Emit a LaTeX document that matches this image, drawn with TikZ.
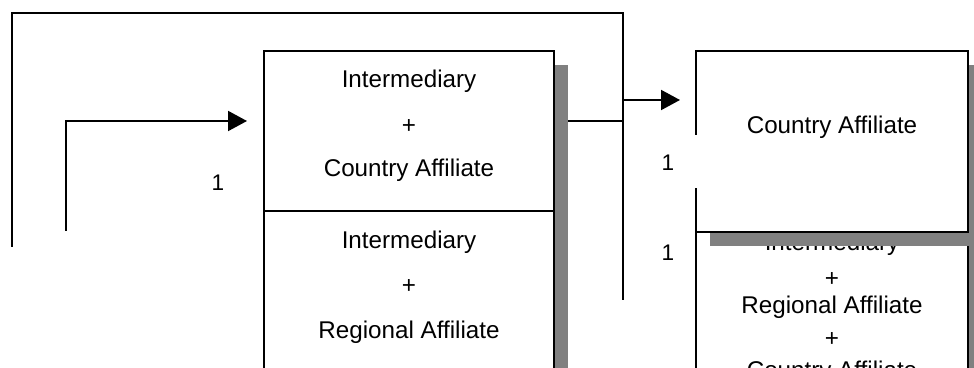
\documentclass[tikz,border=0pt]{standalone}
\usepackage{fontspec}
\setmainfont{Liberation Sans}
\usetikzlibrary{shadows,arrows.meta}
\definecolor{shade}{HTML}{808080}
\tikzset{
  box/.style={draw=black, line width=1pt, fill=white, inner sep=0pt,
    drop shadow={shadow xshift=7pt, shadow yshift=-7pt, fill=shade, opacity=1}},
  txt/.style={inner sep=0pt, anchor=base, font=\fontsize{12.1}{14}\selectfont},
  num/.style={inner sep=0pt, anchor=base, font=\fontsize{11.3}{13}\selectfont},
  wire/.style={line width=1pt},
  arr/.style={wire, -{Triangle[length=9.5pt,width=10pt]}},
}
\begin{document}
\begin{tikzpicture}[x=0.5pt,y=-0.5pt]
\useasboundingbox (0,0) rectangle (974,368);
\clip (0,0) rectangle (974,368);

% left boxes
\node[box, minimum width=145pt, minimum height=80pt] (lt) at (409,131) {};
\node[box, minimum width=145pt, minimum height=94.5pt] (lb) at (409,305.5) {};
\node[txt] (lt1) at (409,87.5) {Intermediary};
\node[txt] (lt2) at (409,134) {+};
\node[txt] (lt3) at (409,177) {Country Affiliate};
\node[txt] (lb1) at (409,248.5) {Intermediary};
\node[txt] (lb2) at (409,294) {+};
\node[txt] (lb3) at (409,338.5) {Regional Affiliate};

% right lower box (partly hidden)
\node[box, minimum width=136pt, minimum height=84pt] (rb) at (832,316) {};
\node[txt] (rb1) at (832,251) {Intermediary};
\node[txt] (rb2) at (832,286.5) {+};
\node[txt] (rb3) at (832,313.5) {Regional Affiliate};
\node[txt] (rb4) at (832,346.5) {+};
\node[txt] (rb5) at (832,378.5) {Country Affiliate};

% right upper box
\node[box, minimum width=136pt, minimum height=90.5pt] (rt) at (832,141.5) {};
\node[txt] (rt1) at (832,133.5) {Country Affiliate};

% labels
\node[fill=white, inner sep=0pt, minimum width=29pt, minimum height=26.5pt] (gap) at (668,161.5) {};
\node[num] (n1) at (218,190.5) {1};
\node[num] (n2) at (668,171) {1};
\node[num] (n3) at (668,261) {1};

% connectors
\coordinate (loopA) at (12,247);
\coordinate (loopTop) at (300,13);
\coordinate (loopB) at (623,300);
\draw[wire] (loopA) |- (loopTop) -| (loopB);

\coordinate (inA) at (66,231);
\coordinate (ltin) at (247,121);
\draw[arr] (inA) |- (ltin);

\coordinate (ltout) at (568,121);
\coordinate (junc) at (623,121);
\draw[wire] (ltout) -- (junc);

\coordinate (split) at (623,100);
\coordinate (rtin) at (680,100);
\draw[arr] (split) -- (rtin);
\end{tikzpicture}
\end{document}
